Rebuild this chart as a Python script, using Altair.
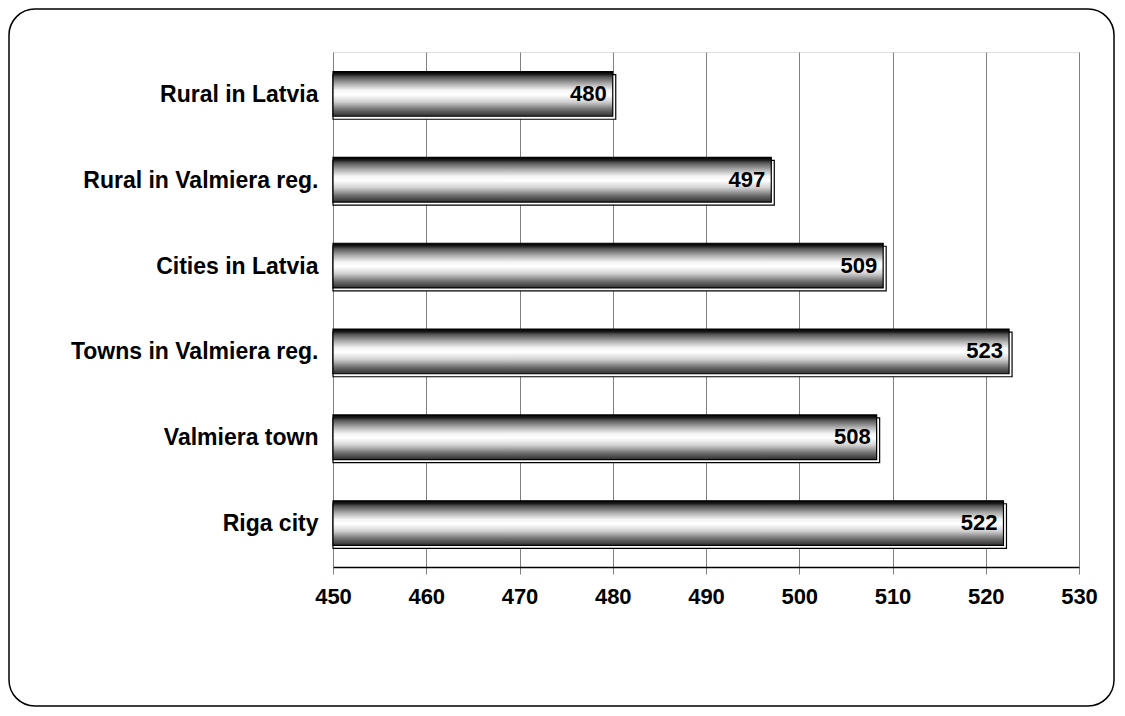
import altair as alt
import pandas as pd

categories = ["Rural in Latvia", "Rural in Valmiera reg.", "Cities in Latvia",
              "Towns in Valmiera reg.", "Valmiera town", "Riga city"]
values = [480.0, 497.0, 509.0, 522.5, 508.3, 521.9]
labels = ["480", "497", "509", "523", "508", "522"]
x_ticks = [450, 460, 470, 480, 490, 500, 510, 520, 530]

df = pd.DataFrame({"cat": categories, "val": values, "lab": labels})

FONT = "Liberation Sans"
W, H = 746, 515

xscale = alt.Scale(domain=[450, 530], nice=False, zero=False)
yscale = alt.Scale(domain=categories, paddingInner=0.48, paddingOuter=0.24)

x_enc = alt.X("val:Q", scale=xscale,
              axis=alt.Axis(values=x_ticks, title=None, grid=True, gridColor="#808080",
                            gridWidth=1, domainColor="black", domainWidth=1.5,
                            tickColor="#808080", tickSize=7, labelPadding=12,
                            labelFont=FONT, labelFontSize=22, labelFontWeight="bold",
                            labelColor="black", labelFlush=False))
y_enc = alt.Y("cat:N", scale=yscale, sort=categories,
              axis=alt.Axis(title=None, domain=False, ticks=False, labelPadding=15,
                            labelFont=FONT, labelFontSize=23, labelFontWeight="bold",
                            labelColor="black", labelLimit=400))

grad = alt.LinearGradient(
    gradient="linear", x1=0, x2=0, y1=0, y2=1,
    stops=[
        alt.GradientStop(offset=0.0, color="#000000"),
        alt.GradientStop(offset=0.06, color="#1a1a1a"),
        alt.GradientStop(offset=0.12, color="#555555"),
        alt.GradientStop(offset=0.28, color="#b0b0b0"),
        alt.GradientStop(offset=0.42, color="#f4f4f4"),
        alt.GradientStop(offset=0.52, color="#ffffff"),
        alt.GradientStop(offset=0.68, color="#d0d0d0"),
        alt.GradientStop(offset=0.85, color="#707070"),
        alt.GradientStop(offset=1.0, color="#303030"),
    ])

frame = alt.Chart(pd.DataFrame({"a": [0]})).mark_rect(
    fill="white", fillOpacity=0, stroke="black", strokeWidth=1.5, cornerRadius=26
).encode(x=alt.value(-324), x2=alt.value(781), y=alt.value(-43), y2=alt.value(654))

base = alt.Chart(df)

shadow = base.mark_bar(fill="white", stroke="black", strokeWidth=1.2,
                       xOffset=3, yOffset=2).encode(x=x_enc, x2=alt.datum(450), y=y_enc)

bars = base.mark_bar(color=grad, stroke="black", strokeWidth=1.2,
                     yOffset=-1).encode(x=x_enc, x2=alt.datum(450), y=y_enc)

text = base.mark_text(align="right", baseline="middle", dx=-6, dy=-1, font=FONT,
                      fontSize=22, fontWeight="bold", color="black").encode(
    x=alt.X("val:Q", scale=xscale), y=alt.Y("cat:N", scale=yscale, sort=categories),
    text="lab:N")

chart = alt.layer(frame, shadow, bars, text).properties(
    width=W, height=H,
    autosize=alt.AutoSizeParams(type="none"),
    padding={"left": 325, "top": 44, "right": 36, "bottom": 140},
).configure_view(stroke=None).configure(background="white")

chart.save("out.html", embed_options={"renderer": "svg", "actions": False})
